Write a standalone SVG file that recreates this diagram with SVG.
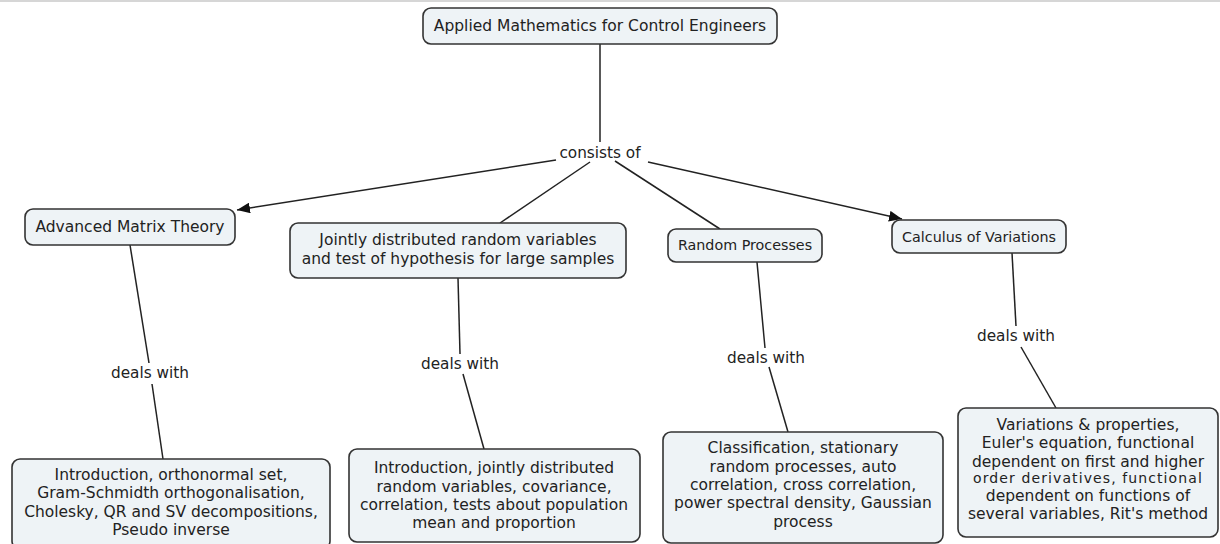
<svg xmlns="http://www.w3.org/2000/svg" width="1220" height="544" viewBox="0 0 1220 544">
  <style>
    .box { fill: #eef3f6; stroke: #333; stroke-width: 1.6; }
    .t { font-family: "DejaVu Sans", Verdana, sans-serif; font-size: 15.5px; fill: #222; text-anchor: middle; }
    .ts { font-size: 14.3px; }
    .thin { font-size: 14px; letter-spacing: 1.1px; }
    .lbl { font-family: "DejaVu Sans", Verdana, sans-serif; font-size: 15.3px; fill: #222; text-anchor: middle; }
    .ln { stroke: #222; stroke-width: 1.5; fill: none; }
  </style>
  <defs>
    <marker id="arrow" viewBox="0 0 12 10" refX="12" refY="5" markerWidth="13" markerHeight="11" markerUnits="userSpaceOnUse" orient="auto">
      <path d="M0,0 L12,5 L0,10 z" fill="#111"/>
    </marker>
  </defs>
  <rect width="1220" height="544" fill="#fff"/>
  <line x1="0" y1="1" x2="1220" y2="1" stroke="#c8c8c8" stroke-width="1.5"/>

  <!-- connectors -->
  <g id="connectors">
    <line class="ln" x1="600" y1="44" x2="600" y2="142"/>
    <line class="ln" x1="556" y1="160" x2="237" y2="210" marker-end="url(#arrow)"/>
    <line class="ln" x1="590" y1="162" x2="500" y2="223"/>
    <line class="ln" x1="615" y1="161" x2="720" y2="229"/>
    <line class="ln" x1="648" y1="162" x2="902" y2="219" marker-end="url(#arrow)"/>

    <line class="ln" x1="130" y1="245" x2="149" y2="363"/>
    <line class="ln" x1="152" y1="384" x2="163" y2="459"/>

    <line class="ln" x1="458" y1="278" x2="460" y2="354"/>
    <line class="ln" x1="463" y1="374" x2="484" y2="449"/>

    <line class="ln" x1="757" y1="262" x2="765" y2="348"/>
    <line class="ln" x1="769" y1="367" x2="788" y2="432"/>

    <line class="ln" x1="1012" y1="253" x2="1016" y2="326"/>
    <line class="ln" x1="1021" y1="347" x2="1056" y2="408"/>

    <text class="lbl" x="600" y="158">consists of</text>
    <text class="lbl" x="150" y="378">deals with</text>
    <text class="lbl" x="460" y="369">deals with</text>
    <text class="lbl" x="766" y="363">deals with</text>
    <text class="lbl" x="1016" y="341">deals with</text>
  </g>

  <g id="root">
    <rect class="box" x="423" y="8" width="354" height="36" rx="8"/>
    <text class="t" x="600" y="31">Applied Mathematics for Control Engineers</text>
  </g>

  <g id="matrix">
    <rect class="box" x="25" y="209" width="210" height="36" rx="8"/>
    <text class="t" x="130" y="232">Advanced Matrix Theory</text>
  </g>

  <g id="joint">
    <rect class="box" x="290" y="223" width="336" height="55" rx="8"/>
    <text class="t" x="458" y="245">Jointly distributed random variables</text>
    <text class="t" x="458" y="264">and test of hypothesis for large samples</text>
  </g>

  <g id="random">
    <rect class="box" x="668" y="229" width="154" height="33" rx="8"/>
    <text class="t ts" x="745" y="250">Random Processes</text>
  </g>

  <g id="calculus">
    <rect class="box" x="892" y="220" width="174" height="33" rx="8"/>
    <text class="t ts" x="979" y="242">Calculus of Variations</text>
  </g>

  <g id="matrix-topics">
    <rect class="box" x="12" y="459" width="318" height="90" rx="8"/>
    <text class="t" x="171" y="480">Introduction, orthonormal set,</text>
    <text class="t" x="171" y="498">Gram-Schmidth orthogonalisation,</text>
    <text class="t" x="171" y="517">Cholesky, QR and SV decompositions,</text>
    <text class="t" x="171" y="535">Pseudo inverse</text>
  </g>

  <g id="joint-topics">
    <rect class="box" x="349" y="449" width="291" height="93" rx="8"/>
    <text class="t" x="494" y="473">Introduction, jointly distributed</text>
    <text class="t" x="494" y="492">random variables, covariance,</text>
    <text class="t" x="494" y="510">correlation, tests about population</text>
    <text class="t" x="494" y="528">mean and proportion</text>
  </g>

  <g id="random-topics">
    <rect class="box" x="663" y="432" width="280" height="111" rx="8"/>
    <text class="t" x="803" y="453">Classification, stationary</text>
    <text class="t" x="803" y="472">random processes, auto</text>
    <text class="t" x="803" y="490">correlation, cross correlation,</text>
    <text class="t" x="803" y="508">power spectral density, Gaussian</text>
    <text class="t" x="803" y="527">process</text>
  </g>

  <g id="calculus-topics">
    <rect class="box" x="958" y="408" width="260" height="129" rx="8"/>
    <text class="t" x="1088" y="430">Variations &amp; properties,</text>
    <text class="t" x="1088" y="448">Euler's equation, functional</text>
    <text class="t" x="1088" y="467">dependent on first and higher</text>
    <text class="t thin" x="1088" y="483">order derivatives, functional</text>
    <text class="t" x="1088" y="501">dependent on functions of</text>
    <text class="t" x="1088" y="519">several variables, Rit's method</text>
  </g>
</svg>
